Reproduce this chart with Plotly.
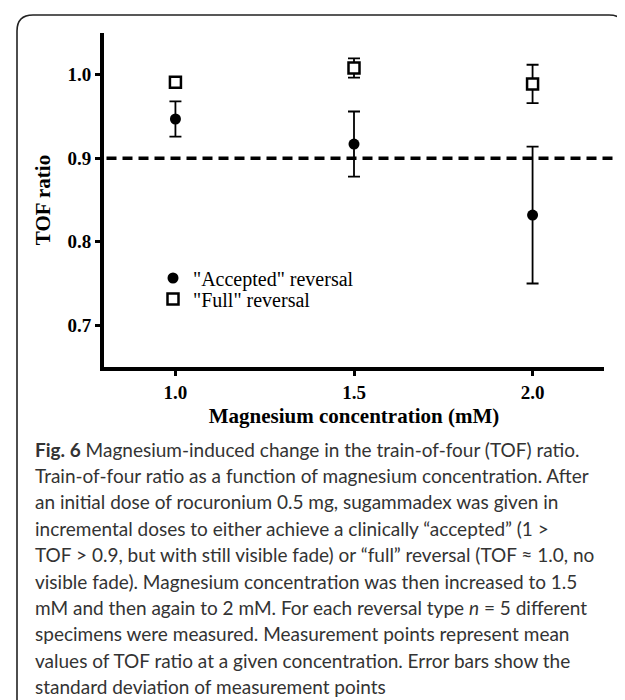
import plotly.graph_objects as go

# ---- data ----
concentration = [1.0, 1.5, 2.0]
accepted_mean = [0.947, 0.917, 0.832]
accepted_sd = [0.021, 0.039, 0.082]
full_mean = [0.991, 1.008, 0.989]
full_sd = [0.003, 0.0115, 0.023]
threshold = 0.9
y_ticks = [0.7, 0.8, 0.9, 1.0]
x_ticks = [1.0, 1.5, 2.0]
series_names = ['"Accepted" reversal', '"Full" reversal']

caption_lines = [
    "<b>Fig. 6</b> Magnesium-induced change in the train-of-four (TOF) ratio.",
    "Train-of-four ratio as a function of magnesium concentration. After",
    "an initial dose of rocuronium 0.5 mg, sugammadex was given in",
    "incremental doses to either achieve a clinically \u201caccepted\u201d (1 >",
    "TOF > 0.9, but with still visible fade) or \u201cfull\u201d reversal (TOF \u2248 1.0, no",
    "visible fade). Magnesium concentration was then increased to 1.5",
    "mM and then again to 2 mM. For each reversal type <i>n</i> = 5 different",
    "specimens were measured. Measurement points represent mean",
    "values of TOF ratio at a given concentration. Error bars show the",
    "standard deviation of measurement points",
]

# ---- layout geometry (pixels) ----
W_FIG, H_FIG = 625, 700
L, R, T = 96, 596, 25
BOT = 359
PW, PH = R - L, BOT - T


def pxx(x):
    return (x - L) / PW


def pxy(y):
    return (BOT - y) / PH


serif = "Liberation Serif"

fig = go.Figure()
fig.add_trace(go.Scatter(
    x=concentration, y=accepted_mean, name=series_names[0], mode="markers",
    marker=dict(symbol="circle", size=11, color="black"),
    error_y=dict(type="data", array=accepted_sd, color="black", thickness=1.8, width=6),
    legend="legend",
))
fig.add_trace(go.Scatter(
    x=concentration, y=full_mean, name=series_names[1], mode="markers",
    marker=dict(symbol="square", size=11, color="white", line=dict(width=2.5, color="black")),
    error_y=dict(type="data", array=full_sd, color="black", thickness=1.8, width=6),
    legend="legend2",
))

# threshold dashed line (extends slightly past the axis end)
fig.add_shape(type="line", xref="paper", yref="y", x0=0.005, x1=pxx(609),
              y0=threshold, y1=threshold,
              line=dict(color="black", width=3.5, dash="10px,6px"))

# rounded frame around the figure
x0, x1 = pxx(9), pxx(617)
y0, y1 = pxy(7), pxy(712)
rx, ry = 16 / PW, 16 / PH
path = (f"M {x0},{y1} L {x0},{y0 - ry} Q {x0},{y0} {x0 + rx},{y0} "
        f"L {x1 - rx},{y0} Q {x1},{y0} {x1},{y0 - ry} L {x1},{y1}")
fig.add_shape(type="path", xref="paper", yref="paper", path=path,
              line=dict(color="#222", width=1.6))

# caption
cap_top = 441
for i, line in enumerate(caption_lines):
    fig.add_annotation(xref="paper", yref="paper", x=pxx(25), y=pxy(cap_top + i * 26.4),
                       xanchor="left", yanchor="middle", showarrow=False, align="left",
                       text=line, font=dict(family="Lato", size=19, color="#333"))

legend_common = dict(xanchor="left", yanchor="middle", bgcolor="rgba(0,0,0,0)",
                     font=dict(family=serif, size=20, color="black"), itemwidth=30)

fig.update_layout(
    width=W_FIG, height=H_FIG,
    margin=dict(l=L, r=W_FIG - R, t=T, b=H_FIG - BOT),
    paper_bgcolor="white", plot_bgcolor="white",
    showlegend=True,
    legend=dict(x=pxx(145), y=pxy(270), **legend_common),
    legend2=dict(x=pxx(145), y=pxy(291), **legend_common),
    xaxis=dict(range=[0.8, 2.2], tickvals=x_ticks, tickformat=".1f",
               showgrid=False, zeroline=False, showline=True, linewidth=4, linecolor="black",
               ticks="outside", ticklen=5, tickwidth=3, tickcolor="black",
               tickfont=dict(family=serif, size=19, color="black", weight="bold"),
               title=dict(text="Magnesium concentration (mM)", standoff=8,
                          font=dict(family=serif, size=21, color="black", weight="bold"))),
    yaxis=dict(range=[0.65, 1.05], tickvals=y_ticks, tickformat=".1f",
               showgrid=False, zeroline=False, showline=True, linewidth=4, linecolor="black",
               ticks="outside", ticklen=5, tickwidth=3, tickcolor="black",
               tickfont=dict(family=serif, size=19, color="black", weight="bold"),
               title=dict(text="TOF ratio", standoff=12,
                          font=dict(family=serif, size=21, color="black", weight="bold"))),
)

fig.write_html("out.html")
